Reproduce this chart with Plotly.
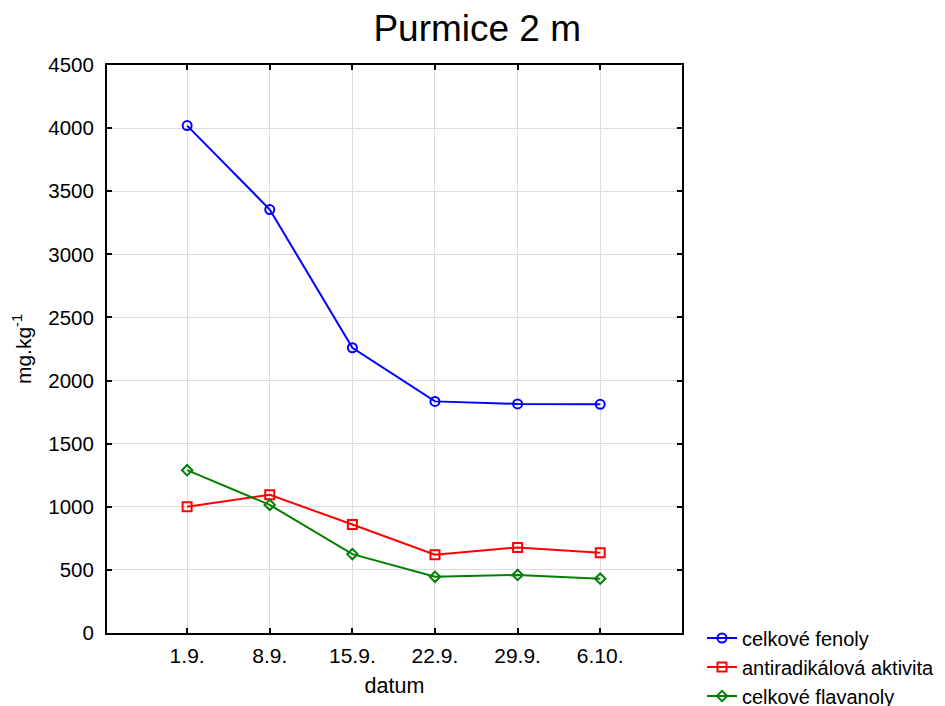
import plotly.graph_objects as go

dates = ["1.9.", "8.9.", "15.9.", "22.9.", "29.9.", "6.10."]
celkove_fenoly = [4020, 3355, 2260, 1835, 1815, 1812]
antiradikalova_aktivita = [1000, 1095, 860, 620, 678, 636]
celkove_flavanoly = [1290, 1015, 625, 445, 460, 430]

series = [
    ("celkové fenoly", celkove_fenoly, "#0000ff", "circle-open", 9),
    ("antiradikálová aktivita", antiradikalova_aktivita, "#ff0000", "square-open", 9),
    ("celkové flavanoly", celkove_flavanoly, "#008000", "diamond-open", 8),
]

W, H = 945, 706
PT, PB = 65, 633

fig = go.Figure()
for name, vals, color, sym, size in series:
    fig.add_trace(go.Scatter(
        x=dates, y=vals, name=name, mode="lines+markers",
        line=dict(color=color, width=2),
        marker=dict(symbol=sym, size=size, color=color, line=dict(color=color, width=2)),
    ))

font_family = "Liberation Sans, Arial, sans-serif"
fig.update_layout(
    width=W, height=H,
    paper_bgcolor="white", plot_bgcolor="white",
    margin=dict(l=107, r=263, t=PT, b=H - PB),
    font=dict(family=font_family, size=21, color="black"),
    title=dict(text="Purmice 2 m", xref="container", x=0.505, xanchor="center",
               yref="container", y=1 - 28 / H, yanchor="middle",
               font=dict(size=37, family=font_family, color="black")),
    showlegend=True,
    legend=dict(xref="container", yref="container", x=702 / W, xanchor="left",
                y=(H - 667) / H, yanchor="middle",
                font=dict(size=20, family=font_family), bgcolor="rgba(0,0,0,0)",
                tracegroupgap=0, itemwidth=30),
)
fig.update_xaxes(
    type="category", range=[-0.97, 5.99],
    showline=True, linecolor="black", linewidth=2, mirror="ticks",
    ticks="inside", ticklen=5, tickcolor="black", tickwidth=2,
    showgrid=True, gridcolor="#dcdcdc", gridwidth=1,
    ticklabelstandoff=3,
    title=dict(text="datum", standoff=12, font=dict(size=21.5)),
    tickfont=dict(size=21), zeroline=False,
)
fig.update_yaxes(
    range=[0, 4500], dtick=500, tick0=0,
    showline=True, linecolor="black", linewidth=2, mirror="ticks",
    ticks="inside", ticklen=5, tickcolor="black", tickwidth=2,
    showgrid=True, gridcolor="#dcdcdc", gridwidth=1,
    ticklabelstandoff=7,
    title=dict(text="mg.kg<sup>-1</sup>", standoff=11, font=dict(size=21)),
    tickfont=dict(size=20.5), zeroline=False,
)
fig.write_html("out.html", config={"displayModeBar": False},
               post_script="document.body.style.margin='0';document.body.style.overflow='hidden';")
